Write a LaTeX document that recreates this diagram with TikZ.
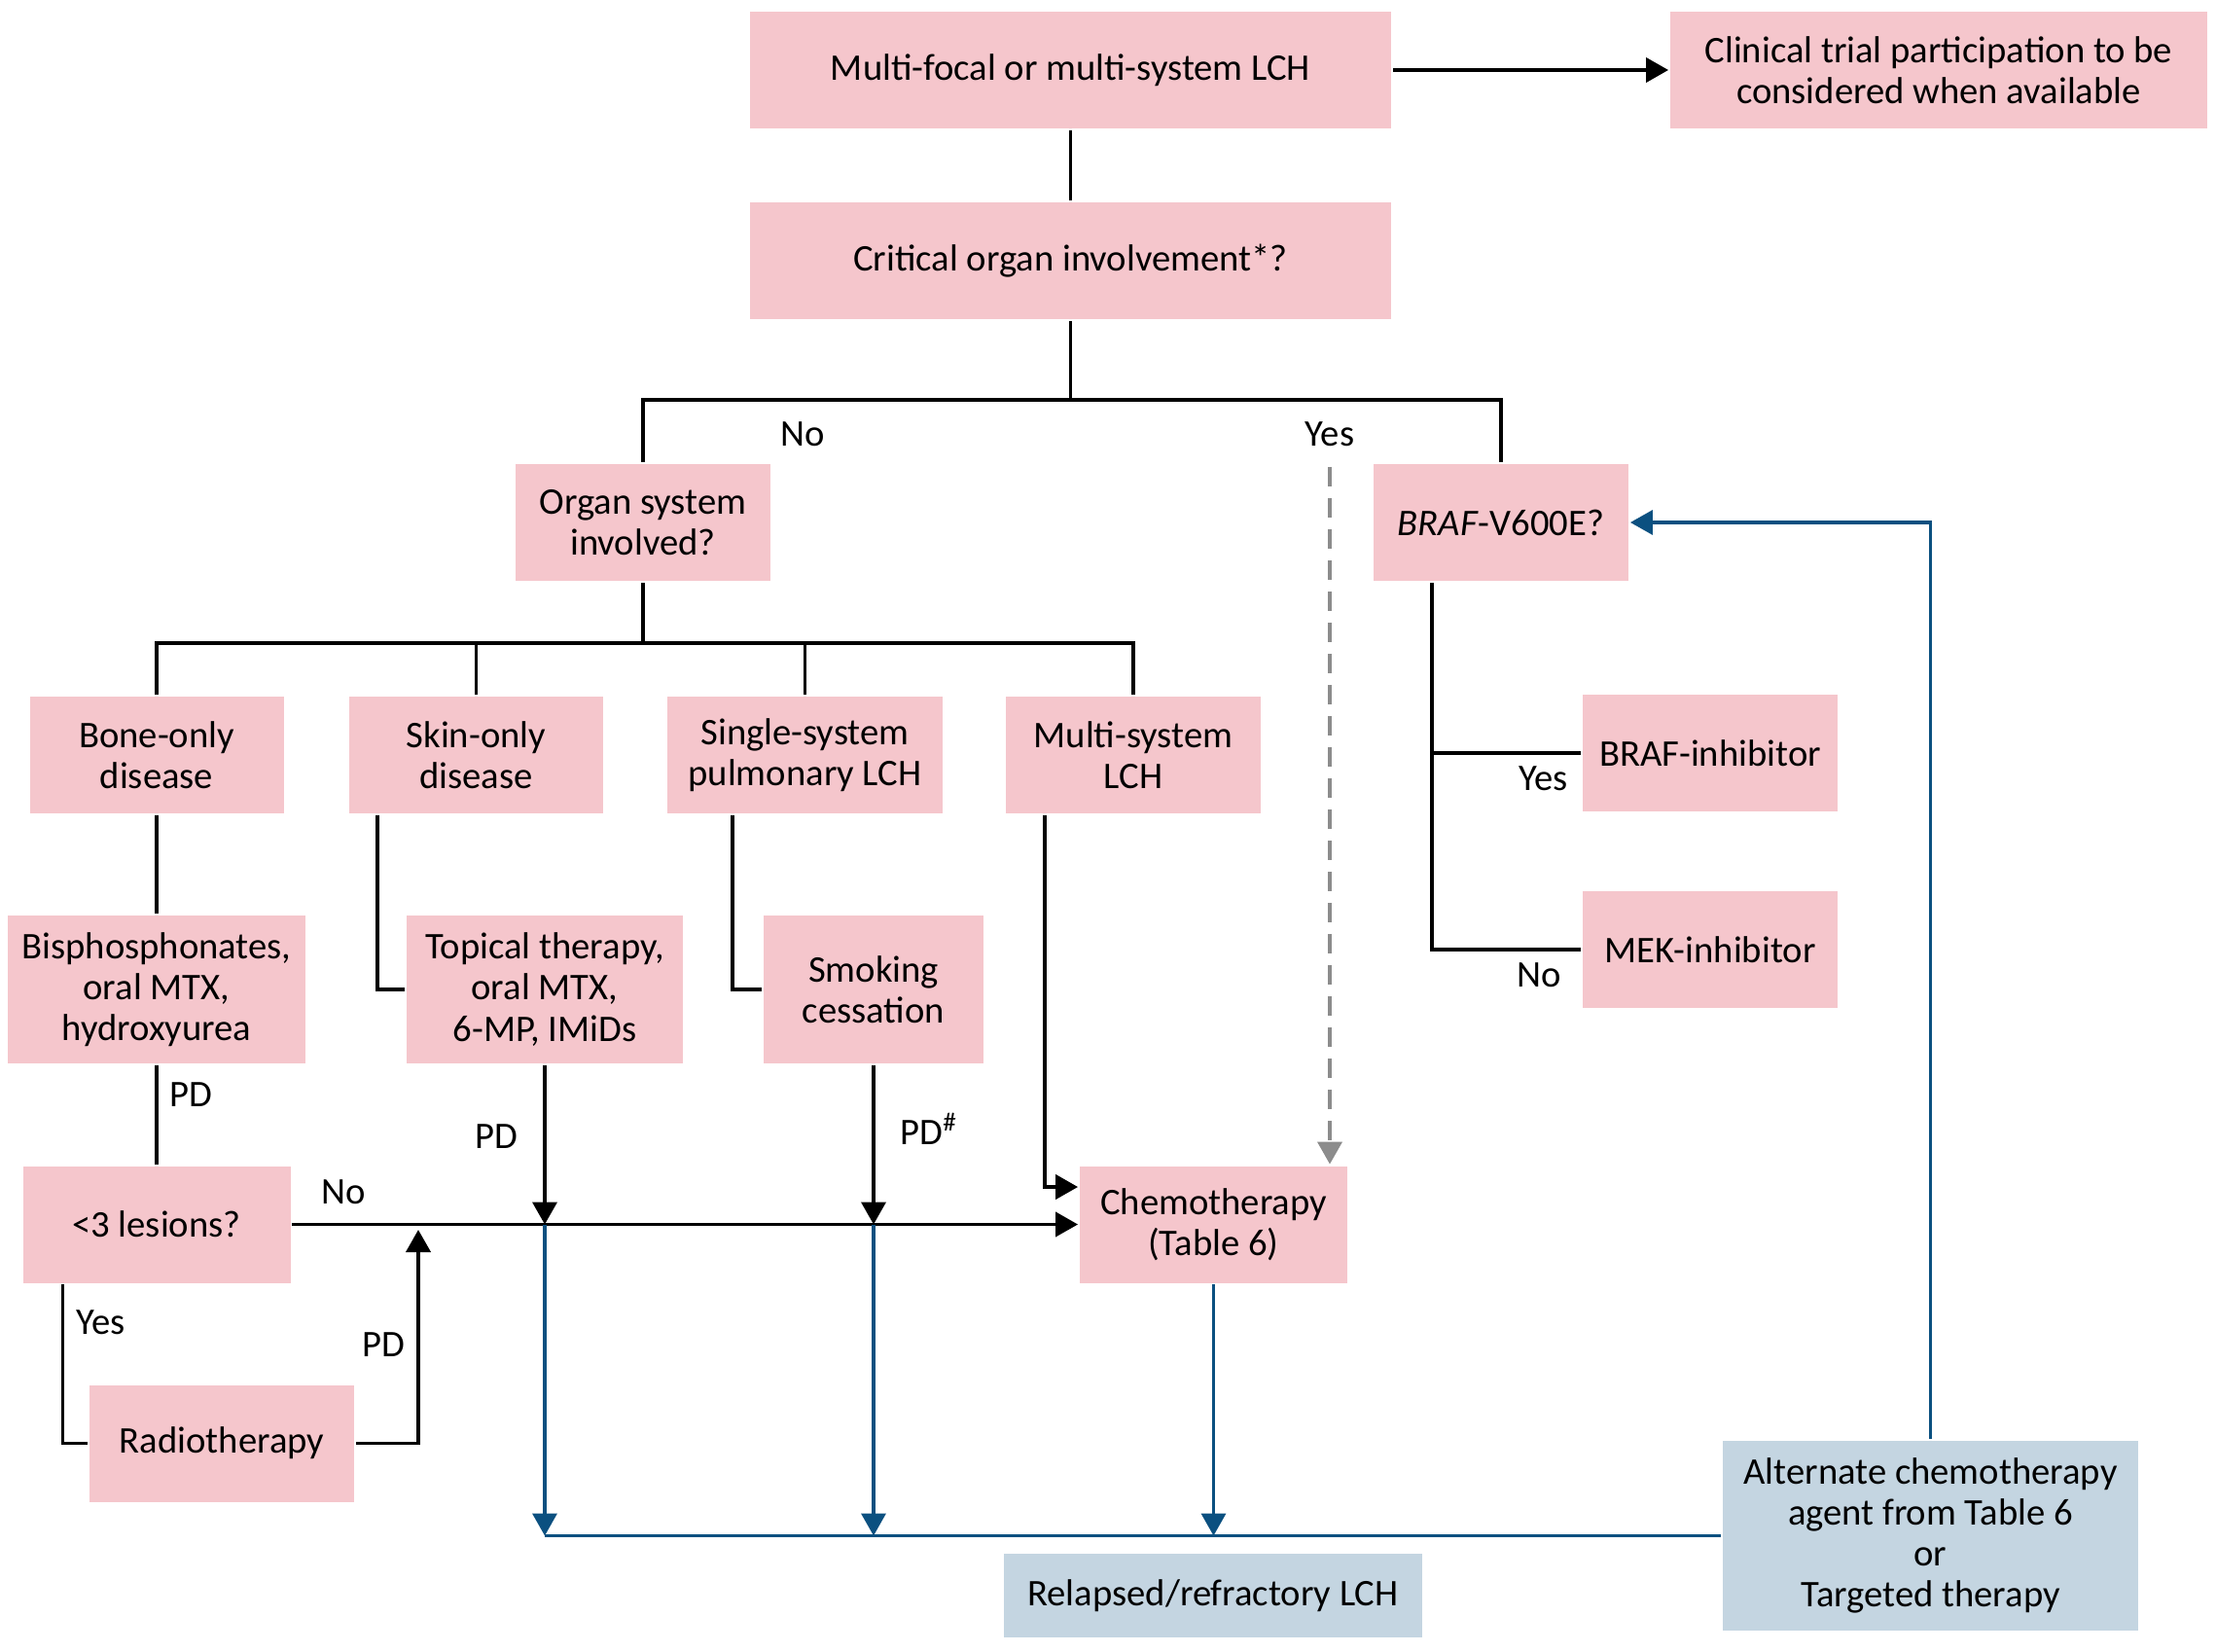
\documentclass[tikz,border=0pt]{standalone}
\usepackage{fontspec}
\setmainfont{Carlito}
\usetikzlibrary{positioning, arrows.meta, calc}
\definecolor{lchrosa}{HTML}{F5C6CC}
\definecolor{lchgrau}{HTML}{C4D5E1}
\definecolor{lchblau}{HTML}{0B5080}
\definecolor{strichgrau}{HTML}{8C8C8C}

\begin{document}
\begin{tikzpicture}[font=\fontsize{11}{12}\selectfont, >={Triangle[length=0.23cm, width=0.25cm]}, line width=1.1pt]

    % --- Definition der Stile für die Blöcke ---
    \tikzset{
        block/.style={rectangle, minimum height=1.2cm, align=center, inner sep=2pt},
        rosablock/.style={block, fill=lchrosa},
        graublock/.style={block, fill=lchgrau},
        blaulinie/.style={draw=lchblau, line width=1.0pt}
    }

    \useasboundingbox (0, 0) rectangle (22.78, -16.98);

    % --- Positionierung der Blöcke ---
    \node[rosablock, minimum width=6.59cm] (multi)    at (11.005, -0.72) {Multi-focal or multi-system LCH};
    \node[rosablock, minimum width=5.52cm] (trial)    at (19.93, -0.72)  {Clinical trial participation to be\\considered when available};
    \node[rosablock, minimum width=6.59cm] (crit)     at (11.005, -2.68) {Critical organ involvement*?};
    \node[rosablock, minimum width=2.62cm] (organ)    at (6.61, -5.37)   {Organ system\\involved?};
    \node[rosablock, minimum width=2.62cm] (braf)     at (15.43, -5.37)  {\textit{BRAF}-V600E?};

    \node[rosablock, minimum width=2.61cm] (bone)     at (1.61, -7.76)   {Bone-only\\disease};
    \node[rosablock, minimum width=2.61cm] (skin)     at (4.895, -7.76)  {Skin-only\\disease};
    \node[rosablock, minimum width=2.83cm] (single)   at (8.275, -7.76)  {Single-system\\pulmonary LCH};
    \node[rosablock, minimum width=2.62cm] (multisys) at (11.65, -7.76)  {Multi-system\\LCH};
    \node[rosablock, minimum width=2.62cm] (brafinh)  at (17.58, -7.74)  {BRAF-inhibitor};
    \node[rosablock, minimum width=2.62cm] (mek)      at (17.58, -9.76)  {MEK-inhibitor};

    \node[rosablock, minimum width=3.06cm, minimum height=1.52cm] (bisph)   at (1.61, -10.17) {Bisphosphonates,\\oral MTX,\\hydroxyurea};
    \node[rosablock, minimum width=2.84cm, minimum height=1.52cm] (topical) at (5.60, -10.17) {Topical therapy,\\oral MTX,\\6-MP, IMiDs};
    \node[rosablock, minimum width=2.26cm, minimum height=1.52cm] (smoking) at (8.98, -10.17) {Smoking\\cessation};

    \node[rosablock, minimum width=2.75cm] (lesions)  at (1.61, -12.585) {<3 lesions?};
    \node[rosablock, minimum width=2.75cm] (chemo)    at (12.475, -12.585) {Chemotherapy\\(Table 6)};
    \node[rosablock, minimum width=2.72cm] (radio)    at (2.28, -14.835) {Radiotherapy};

    \node[graublock, minimum width=4.30cm, minimum height=0.86cm] (relapsed) at (12.47, -16.40) {Relapsed/refractory LCH};
    \node[graublock, minimum width=4.27cm, minimum height=1.95cm] (alt)      at (19.845, -15.785) {Alternate chemotherapy\\agent from Table 6\\or\\Targeted therapy};

    % --- Hilfspunkte ---
    \coordinate (jcrit)    at (11.005, -4.11);
    \coordinate (jorgan)   at (6.61, -6.61);
    \coordinate (jyes)     at (13.67, -4.80);
    \coordinate (jradio)   at (4.30, -12.64);
    \coordinate (skindown) at ([xshift=-1.015cm]skin.south);
    \coordinate (singdown) at ([xshift=-0.745cm]single.south);
    \coordinate (multdown) at ([xshift=-0.91cm]multisys.south);
    \coordinate (brafdown) at ([xshift=-0.71cm]braf.south);
    \coordinate (lesdown)  at ([xshift=-0.965cm]lesions.south);
    \coordinate (hit1)     at (topical.south |- lesions.east);
    \coordinate (hit2)     at (smoking.south |- lesions.east);
    \coordinate (low1)     at (topical.south |- alt.west);
    \coordinate (low2)     at (smoking.south |- alt.west);
    \coordinate (low3)     at (chemo.south |- alt.west);

    % --- Obere Ebene ---
    \draw[->] (multi.east) -- (trial.west);
    \draw (multi.south) -- (crit.north);
    \draw (crit.south) -- (jcrit);
    \draw (jcrit) -| (organ.north);
    \draw (jcrit) -| (braf.north);
    \node at (8.25, -4.46) {No};
    \node at (13.67, -4.46) {Yes};

    % Yes -> Chemotherapie (gestrichelt)
    \draw[->, strichgrau, dash pattern=on 0.2cm off 0.12cm] (jyes) -- (jyes |- chemo.north);

    % --- Organsysteme ---
    \draw (organ.south) -- (jorgan);
    \draw (jorgan) -| (bone.north);
    \draw (jorgan) -| (skin.north);
    \draw (jorgan) -| (single.north);
    \draw (jorgan) -| (multisys.north);

    \draw (bone.south) -- (bisph.north);
    \draw (skindown) |- (topical.west);
    \draw (singdown) |- (smoking.west);
    \draw[->] (multdown) |- ([yshift=0.385cm]chemo.west);

    % --- PD Pfade ---
    \draw (bisph.south) -- (lesions.north) node[pos=0.3, right] {PD};
    \draw[->] (topical.south) -- (hit1) node[pos=0.45, left, xshift=-4pt] {PD};
    \draw[->] (smoking.south) -- (hit2) node[pos=0.4, right, xshift=4pt] {PD\textsuperscript{\#}};
    \draw[->] (lesions.east) -- (chemo.west) node[pos=0.065, above, yshift=2pt] {No};
    \draw (lesdown) |- (radio.west) node[pos=0.12, right] {Yes};
    \draw[->] (radio.east) -| (jradio) node[pos=0.73, left] {PD};

    % --- BRAF ---
    \draw (brafdown) |- (mek.west) node[pos=0.86, below] {No};
    \draw (brafdown |- brafinh.west) -- (brafinh.west) node[pos=0.75, below] {Yes};

    % --- Rezidiv (blau) ---
    \draw[blaulinie, ->] (hit1) -- (low1);
    \draw[blaulinie, ->] (hit2) -- (low2);
    \draw[blaulinie, ->] (chemo.south) -- (low3);
    \draw[blaulinie] (alt.west) -- (low1);
    \draw[blaulinie, ->] (alt.north) |- (braf.east);

\end{tikzpicture}
\end{document}
